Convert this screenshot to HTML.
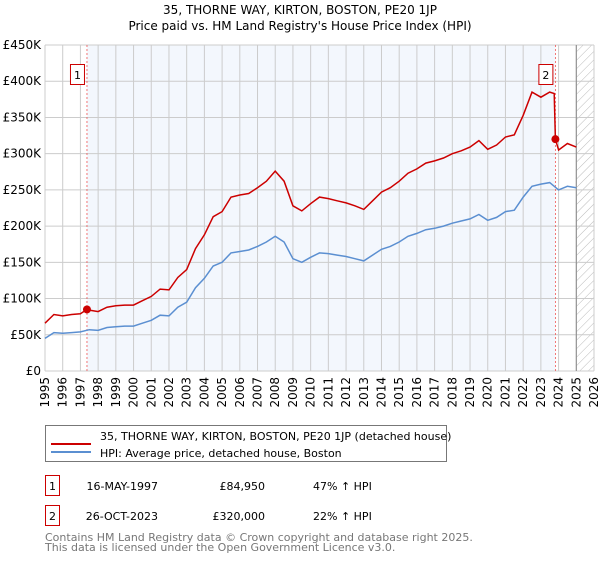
<!DOCTYPE html>
<html><head><meta charset="utf-8"><style>
body{margin:0;background:#fff;font-family:"DejaVu Sans","Liberation Sans",sans-serif;}
svg text{font-family:"DejaVu Sans","Liberation Sans",sans-serif;}
</style></head><body>
<svg id="chart" width="600" height="560" xmlns="http://www.w3.org/2000/svg">
<defs><pattern id="hatch" width="6" height="6" patternUnits="userSpaceOnUse" patternTransform="rotate(45)"><line x1="0" y1="0" x2="0" y2="6" stroke="#bbb" stroke-width="1"/></pattern></defs>
<text x="300" y="14" text-anchor="middle" font-size="12" fill="#000">35, THORNE WAY, KIRTON, BOSTON, PE20 1JP</text>
<text x="300" y="30" text-anchor="middle" font-size="12" fill="#000">Price paid vs. HM Land Registry's House Price Index (HPI)</text>
<g id="plot"></g>
<rect x="45.5" y="425.5" width="401" height="36" fill="#fff" stroke="#777"/>
<line x1="51" y1="444" x2="91" y2="444" stroke="#cc0000" stroke-width="2"/>
<text x="100" y="440" font-size="11">35, THORNE WAY, KIRTON, BOSTON, PE20 1JP (detached house)</text>
<line x1="51" y1="452" x2="91" y2="452" stroke="#5b8fd1" stroke-width="2"/>
<text x="100" y="457" font-size="11">HPI: Average price, detached house, Boston</text>
<g font-size="11">
<rect x="45.5" y="475.5" width="14" height="20" fill="#fff" stroke="#cc0000"/>
<text x="52.5" y="490" text-anchor="middle">1</text>
<text x="158" y="490" text-anchor="end">16-MAY-1997</text>
<text x="265" y="490" text-anchor="end">£84,950</text>
<text x="313" y="490">47% ↑ HPI</text>
<rect x="45.5" y="505.5" width="14" height="20" fill="#fff" stroke="#cc0000"/>
<text x="52.5" y="520" text-anchor="middle">2</text>
<text x="158" y="520" text-anchor="end">26-OCT-2023</text>
<text x="265" y="520" text-anchor="end">£320,000</text>
<text x="313" y="520">22% ↑ HPI</text>
</g>
<text x="45" y="541" font-size="11" fill="#777">Contains HM Land Registry data © Crown copyright and database right 2025.</text>
<text x="45" y="551" font-size="11" fill="#777">This data is licensed under the Open Government Licence v3.0.</text>
</svg>
<script>
const years=[1995,1995.5,1996,1996.5,1997,1997.5,1998,1998.5,1999,1999.5,2000,2000.5,2001,2001.5,2002,2002.5,2003,2003.5,2004,2004.5,2005,2005.5,2006,2006.5,2007,2007.5,2008,2008.5,2009,2009.5,2010,2010.5,2011,2011.5,2012,2012.5,2013,2013.5,2014,2014.5,2015,2015.5,2016,2016.5,2017,2017.5,2018,2018.5,2019,2019.5,2020,2020.5,2021,2021.5,2022,2022.5,2023,2023.5,2024,2024.5,2025];
const hpiValues=[45,53,52,53,54,57,56,60,61,62,62,66,70,77,76,88,95,115,128,145,150,163,165,167,172,178,186,178,155,150,157,163,162,160,158,155,152,160,168,172,178,186,190,195,197,200,204,207,210,216,208,212,220,222,240,255,258,260,250,255,253];
const redYears=[1995,1995.5,1996,1996.5,1997,1997.37,1997.5,1998,1998.5,1999,1999.5,2000,2000.5,2001,2001.5,2002,2002.5,2003,2003.5,2004,2004.5,2005,2005.5,2006,2006.5,2007,2007.5,2008,2008.5,2009,2009.5,2010,2010.5,2011,2011.5,2012,2012.5,2013,2013.5,2014,2014.5,2015,2015.5,2016,2016.5,2017,2017.5,2018,2018.5,2019,2019.5,2020,2020.5,2021,2021.5,2022,2022.5,2023,2023.5,2023.75,2023.82,2024,2024.5,2025];
const redValues=[66,78,76,78,79,85,84,82,88,90,91,91,97,103,113,112,129,140,169,188,213,220,240,243,245,253,262,276,262,228,221,231,240,238,235,232,228,223,235,247,253,262,273,279,287,290,294,300,304,309,318,306,312,323,326,353,385,378,385,383,320,305,314,309];
const sales=[{year:1997.37,value:84.95,label:"1"},{year:2023.82,value:320,label:"2"}];
const yTicks=[0,50,100,150,200,250,300,350,400,450];
const yTickLabels=["£0","£50K","£100K","£150K","£200K","£250K","£300K","£350K","£400K","£450K"];
const xTicks=[1995,1996,1997,1998,1999,2000,2001,2002,2003,2004,2005,2006,2007,2008,2009,2010,2011,2012,2013,2014,2015,2016,2017,2018,2019,2020,2021,2022,2023,2024,2025,2026];

const X0=45,X1=594,Y0=371,Y1=45;
const x=v=>X0+(v-1995)/(2026-1995)*(X1-X0);
const y=v=>Y0-v/450*(Y0-Y1);
const NS="http://www.w3.org/2000/svg";
const g=document.getElementById('plot');
function mk(tag,attrs,parent){const e=document.createElementNS(NS,tag);for(const k in attrs)e.setAttribute(k,attrs[k]);(parent||g).appendChild(e);return e;}

let r=mk('rect',{x:x(sales[0].year),y:Y1,width:x(sales[1].year)-x(sales[0].year),height:Y0-Y1,fill:'#eef3fc',opacity:0.7});


r=mk('rect',{x:x(2025),y:Y1,width:X1-x(2025),height:Y0-Y1,fill:'url(#hatch)'});


yTicks.forEach((t,i)=>{
  let l=mk('line',{x1:X0,x2:X1,y1:y(t),y2:y(t),stroke:'#ccc'});
  
  
  let tx=mk('text',{x:X0-4,y:y(t)+4,'text-anchor':'end','font-size':12});
  tx.textContent=yTickLabels[i];
  
  
});
xTicks.forEach(t=>{
  let l=mk('line',{x1:x(t),x2:x(t),y1:Y1,y2:Y0,stroke:'#ccc'});
  
  
  const cx=x(t)+4, cy=Y0+6;
  let tx=mk('text',{x:cx,y:cy,'text-anchor':'end','font-size':12,transform:'rotate(-90 '+cx+' '+cy+')'});
  tx.textContent=t;
  
  
});
let ax=mk('line',{x1:x(2025),x2:x(2025),y1:Y1,y2:Y0,stroke:'#888'});


sales.forEach(s=>{
  let l=mk('line',{x1:x(s.year),x2:x(s.year),y1:Y1,y2:Y0,stroke:'#e55',"stroke-dasharray":'2,2','stroke-width':0.8});
  
  
});
let p=mk('path',{d:years.map((v,i)=>(i?'L':'M')+x(v).toFixed(1)+' '+y(hpiValues[i]).toFixed(1)).join(''),fill:'none',stroke:'#5b8fd1','stroke-width':1.5});


p=mk('path',{d:redYears.map((v,i)=>(i?'L':'M')+x(v).toFixed(1)+' '+y(redValues[i]).toFixed(1)).join(''),fill:'none',stroke:'#cc0000','stroke-width':1.5});


sales.forEach(s=>{
  let c=mk('circle',{cx:x(s.year),cy:y(s.value),r:4,fill:'#cc0000'});
  
  
  let b=mk('rect',{x:x(s.year)-16.5,y:64.5,width:14,height:20,fill:'#fff',stroke:'#cc0000'});
  
  
  let t=mk('text',{x:x(s.year)-9.5,y:79,'text-anchor':'middle','font-size':11});
  t.textContent=s.label;
  
  
});
</script>
</body></html>
